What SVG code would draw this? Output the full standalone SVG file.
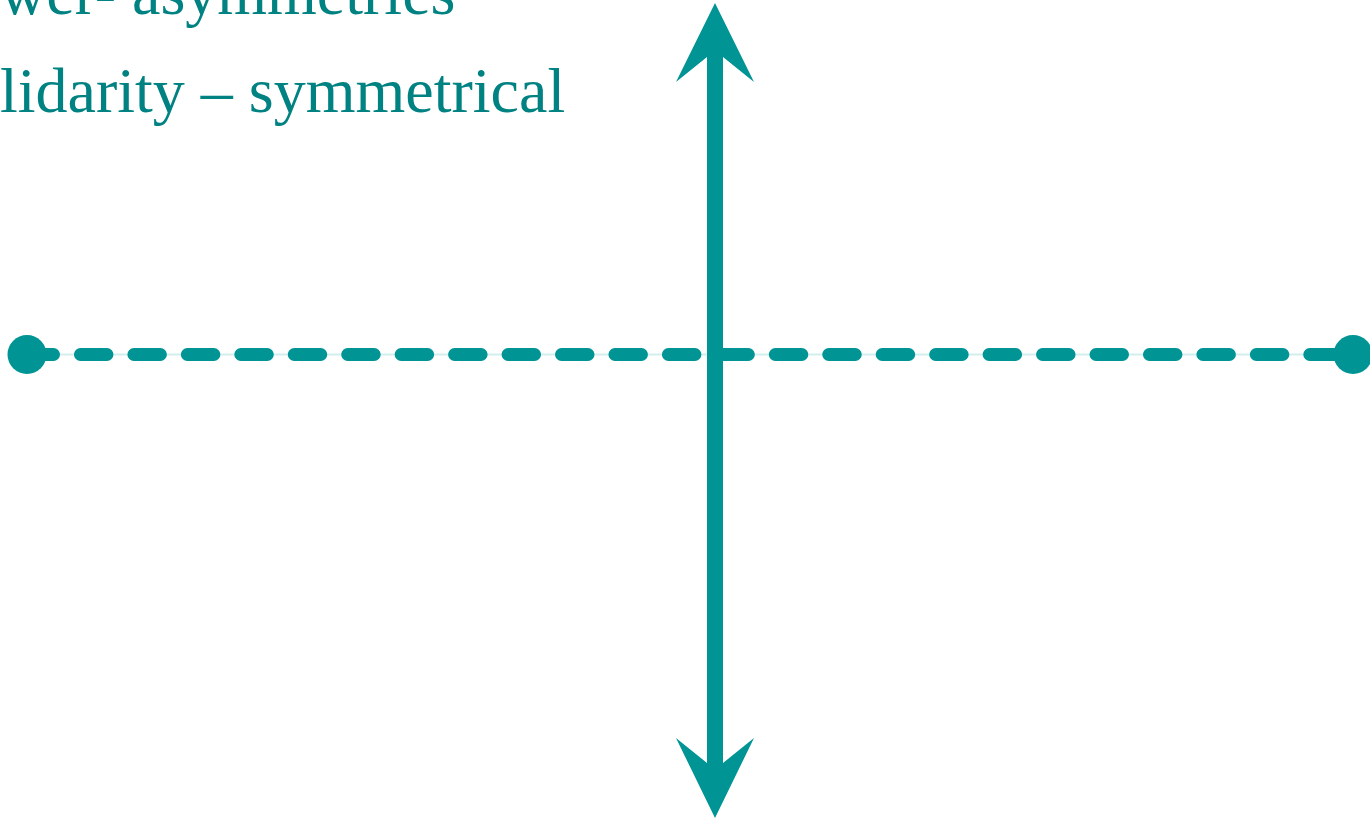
<svg xmlns="http://www.w3.org/2000/svg" width="1370" height="821" viewBox="0 0 1370 821">
  <style>
    .lbl { font-family: "Liberation Serif", "Times New Roman", serif; font-size: 64px; fill: #008282; }
    .teal { fill: #009494; }
  </style>
  <rect width="1370" height="821" fill="#ffffff"/>
  <g id="labels">
    <text class="lbl" x="0" y="14">wer- asymmetries</text>
    <text class="lbl" x="0" y="112">lidarity – symmetrical</text>
  </g>
  <g id="connectors">
    <g id="horizontal-axis">
      <line x1="27" y1="354.5" x2="1353" y2="354.5" stroke="#d3eeee" stroke-width="2"/>
      <line x1="27" y1="354.5" x2="1353" y2="354.5" stroke="#009494" stroke-width="13" stroke-linecap="round" stroke-dasharray="26.5 26.95"/>
      <circle class="teal" cx="27" cy="354.5" r="19.5"/>
      <circle class="teal" cx="1353" cy="354.5" r="19.5"/>
    </g>
    <g id="vertical-axis">
      <rect class="teal" x="707" y="50" width="16" height="720"/>
      <polygon class="teal" points="715,3 754,82 723,57 707,57 676,82"/>
      <polygon class="teal" points="715,818 754,738 723,763 707,763 676,738"/>
    </g>
  </g>
</svg>
